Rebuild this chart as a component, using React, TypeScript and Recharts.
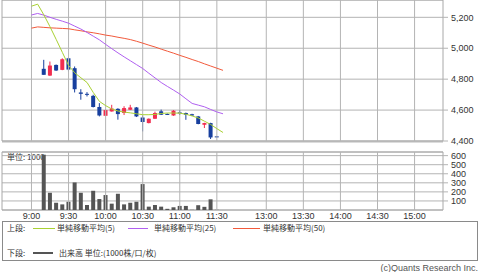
import React from "react";
import {
  ComposedChart, Bar, Line, XAxis, YAxis, CartesianGrid, ReferenceArea, ReferenceLine,
} from "recharts";

// 位置: 9:00 = 0, 5分 = 1 コマ。昼休み (11:30-12:30) は 2 コマに詰める
const LINE_SLOTS = [
  0, 1, 2, 3, 4, 5, 6, 7, 8, 9, 10, 11, 12, 13, 14, 15,
  16, 17, 18, 19, 20, 21, 22, 23, 24, 25, 26, 27, 28, 29, 30, 31,
];
const CANDLE_SLOTS = [
  2, 3, 4, 5, 6, 7, 8, 9, 10, 11, 12, 13, 14, 15, 16,
  17, 18, 19, 20, 21, 22, 23, 24, 25, 26, 27, 28, 29, 30,
];

const OPEN = [4867, 4823, 4892, 4860, 4935, 4871, 4714, 4705, 4692, 4620, 4563, 4591, 4608, 4581, 4602, 4617, 4552, 4516, 4544, 4592, 4575, 4565, 4585, 4581, 4573, 4559, 4505, 4516, 4430];
const HIGH = [4925, 4914, 4895, 4935, 4940, 4882, 4735, 4716, 4699, 4645, 4607, 4634, 4612, 4625, 4634, 4620, 4565, 4546, 4590, 4603, 4578, 4600, 4600, 4584, 4576, 4562, 4518, 4518, 4432];
const LOW = [4828, 4820, 4853, 4858, 4850, 4714, 4667, 4688, 4617, 4559, 4562, 4590, 4538, 4568, 4600, 4555, 4462, 4514, 4542, 4568, 4568, 4563, 4568, 4537, 4563, 4508, 4484, 4413, 4423];
const CLOSE = [4828, 4888, 4856, 4929, 4862, 4735, 4705, 4699, 4620, 4565, 4600, 4610, 4574, 4613, 4617, 4559, 4523, 4544, 4581, 4570, 4570, 4596, 4581, 4570, 4565, 4510, 4516, 4423, 4425];
const VOLUME = [610, 190, 80, 62, 91, 304, 190, 55, 212, 121, 165, 70, 179, 62, 80, 91, 286, 37, 55, 37, 13, 30, 45, 45, 2, 53, 35, 118, 2];

const MA5 = [5272, 5285, 5216, 5139, 5057, 4973, 4889, 4841, 4809, 4778, 4714, 4656, 4629, 4607, 4594, 4587, 4582, 4576, 4570, 4570, 4572, 4578, 4581, 4581, 4580, 4573, 4562, 4549, 4528, 4507, 4480, 4455];
const MA25 = [5215, 5225, 5214, 5200, 5187, 5175, 5162, 5143, 5124, 5102, 5078, 5054, 5025, 4997, 4970, 4944, 4919, 4894, 4869, 4838, 4808, 4778, 4753, 4729, 4704, 4673, 4643, 4632, 4621, 4604, 4588, 4576];
const MA50 = [5130, 5138, 5135, 5132, 5130, 5128, 5126, 5119, 5113, 5106, 5100, 5093, 5085, 5079, 5071, 5064, 5056, 5045, 5033, 5020, 5008, 4994, 4981, 4968, 4954, 4941, 4927, 4914, 4899, 4885, 4871, 4857];

const X_TICKS = [0, 6, 12, 18, 24, 30, 38, 44, 50, 56, 62];
const X_LABELS = ["9:00", "9:30", "10:00", "10:30", "11:00", "11:30", "13:00", "13:30", "14:00", "14:30", "15:00"];
const X_DOMAIN: [number, number] = [-4.77, 66.6];

const PRICE_TICKS = [4400, 4600, 4800, 5000, 5200];
const PRICE_DOMAIN: [number, number] = [4400, 5312];
const VOL_TICKS = [100, 200, 300, 400, 500, 600];
const VOL_DOMAIN: [number, number] = [0, 640];

const UP = "#f22d4f";
const DOWN = "#173f9e";
const C_MA5 = "#a9d133";
const C_MA25 = "#b060f0";
const C_MA50 = "#f25a3c";
const GRID = "#b4b4b4";
const FONT = "'Liberation Sans', Arial, sans-serif";
const JP = "'Noto Sans CJK JP', 'Liberation Sans', sans-serif";

const TICK_STYLE = { fill: "#333", fontSize: 9, fontFamily: FONT };

const rows = LINE_SLOTS.map((slot, i) => {
  const k = CANDLE_SLOTS.indexOf(slot);
  return {
    slot,
    ma5: MA5[i],
    ma25: MA25[i],
    ma50: MA50[i],
    open: k >= 0 ? OPEN[k] : null,
    high: k >= 0 ? HIGH[k] : null,
    low: k >= 0 ? LOW[k] : null,
    close: k >= 0 ? CLOSE[k] : null,
  };
});

const volRows = CANDLE_SLOTS.map((slot, i) => ({ slot, vol: VOLUME[i] }));

// ローソク足: [安値, 高値] のバーの座標から始値・終値の位置を割り出す
const Candle = (props: any) => {
  const { x, y, width, height, payload } = props;
  if (!payload || payload.open == null) return null;
  const { open, close, high, low } = payload;
  const top = Math.min(y, y + height);
  const h = Math.abs(height);
  const span = high - low || 1;
  const py = (v: number) => top + ((high - v) / span) * h;
  const color = close >= open ? UP : DOWN;
  const cx = x + width / 2;
  const bTop = py(Math.max(open, close));
  const bH = Math.max(py(Math.min(open, close)) - bTop, 1);
  return (
    <g>
      <line x1={cx} x2={cx} y1={top} y2={top + h} stroke={color} strokeWidth={1} />
      <rect x={x} y={bTop} width={width} height={bH} fill={color} />
    </g>
  );
};

const legendText: React.CSSProperties = {
  position: "absolute", fontFamily: JP, fontSize: 8, color: "#333",
  lineHeight: "10px", whiteSpace: "nowrap",
};

const swatch = (left: number, top: number, w: number, color: string, h = 1) => (
  <div style={{ position: "absolute", left, top, width: w, height: h, background: color }} />
);

// 時刻目盛りの縦グリッド
const timeLines = () =>
  X_TICKS.map((t) => <ReferenceLine key={t} x={t} stroke={GRID} />);

export default function App() {
  return (
    <div style={{ position: "absolute", left: 0, top: 0, width: 480, height: 272, background: "#fff", overflow: "hidden" }}>
      <div style={{ position: "absolute", left: 2, top: 141, width: 441, height: 2, background: "#dcdcdc" }} />

      {/* 上段: ローソク足 + 移動平均 */}
      <div style={{ position: "absolute", left: 0, top: 0 }}>
        <ComposedChart width={480} height={150} data={rows} margin={{ top: 0, right: 0, left: 2, bottom: 9 }}>
          <CartesianGrid stroke={GRID} vertical={false} />
          <XAxis
            dataKey="slot" type="number" domain={X_DOMAIN} ticks={X_TICKS} interval={0}
            allowDataOverflow tick={false} tickLine={false} axisLine={false} height={0}
          />
          <YAxis
            orientation="right" domain={PRICE_DOMAIN} ticks={PRICE_TICKS} allowDataOverflow interval={0}
            width={37} tick={TICK_STYLE} tickSize={5} tickMargin={3}
            tickLine={{ stroke: GRID }} axisLine={false}
            tickFormatter={(v: number) => v.toLocaleString("en-US")}
          />
          {timeLines()}
          <ReferenceArea
            x1={X_DOMAIN[0]} x2={X_DOMAIN[1]} y1={PRICE_DOMAIN[0]} y2={PRICE_DOMAIN[1]}
            fill="none" stroke="#a8a8a8" ifOverflow="visible"
          />
          <Line dataKey="ma50" type="linear" stroke={C_MA50} strokeWidth={1} dot={false} isAnimationActive={false} />
          <Line dataKey="ma25" type="linear" stroke={C_MA25} strokeWidth={1} dot={false} isAnimationActive={false} />
          <Bar
            dataKey={(d: any) => (d.high == null ? null : [d.low, d.high])}
            barSize={4} shape={<Candle />} isAnimationActive={false}
          />
          <Line dataKey="ma5" type="linear" stroke={C_MA5} strokeWidth={1} dot={false} isAnimationActive={false} />
        </ComposedChart>
      </div>

      {/* 下段: 出来高 */}
      <div style={{ ...legendText, left: 7, top: 152 }}>単位: 1000</div>
      <div style={{ position: "absolute", left: 0, top: 150 }}>
        <ComposedChart width={480} height={72} data={volRows} margin={{ top: 2, right: 0, left: 2, bottom: 0 }}>
          <CartesianGrid stroke={GRID} vertical={false} />
          <XAxis
            dataKey="slot" type="number" domain={X_DOMAIN} ticks={X_TICKS} allowDataOverflow interval={0}
            tick={TICK_STYLE} tickLine={false} tickSize={0} axisLine={false} tickMargin={3} height={12}
            tickFormatter={(v: number) => X_LABELS[X_TICKS.indexOf(v)]}
          />
          <YAxis
            orientation="right" domain={VOL_DOMAIN} ticks={VOL_TICKS} allowDataOverflow interval={0}
            width={37} tick={TICK_STYLE} tickSize={5} tickMargin={3}
            tickLine={{ stroke: GRID }} axisLine={false}
          />
          {timeLines()}
          <ReferenceArea
            x1={X_DOMAIN[0]} x2={X_DOMAIN[1]} y1={VOL_DOMAIN[0]} y2={VOL_DOMAIN[1]}
            fill="none" stroke="#a8a8a8" ifOverflow="visible"
          />
          <Bar dataKey="vol" barSize={4} fill="#555" isAnimationActive={false} />
        </ComposedChart>
      </div>

      {/* 凡例 */}
      <div style={{ position: "absolute", left: 2, top: 221, width: 474, height: 38, border: "1px solid #8a8a8a" }} />
      <div style={{ ...legendText, left: 7, top: 223 }}>上段:</div>
      {swatch(33, 228, 22, C_MA5)}
      <div style={{ ...legendText, left: 57, top: 223 }}>単純移動平均(5)</div>
      {swatch(128, 228, 20, C_MA25)}
      <div style={{ ...legendText, left: 154, top: 223 }}>単純移動平均(25)</div>
      {swatch(233, 228, 27, C_MA50)}
      <div style={{ ...legendText, left: 263, top: 223 }}>単純移動平均(50)</div>
      <div style={{ ...legendText, left: 7, top: 248 }}>下段:</div>
      {swatch(33, 252, 20, "#555", 2)}
      <div style={{ ...legendText, left: 59, top: 248 }}>出来高 単位:(1000株/口/枚)</div>

      <div style={{ position: "absolute", right: 2, top: 263, fontFamily: FONT, fontSize: 9, color: "#555", whiteSpace: "nowrap" }}>
        (c)Quants Research Inc.
      </div>
    </div>
  );
}
